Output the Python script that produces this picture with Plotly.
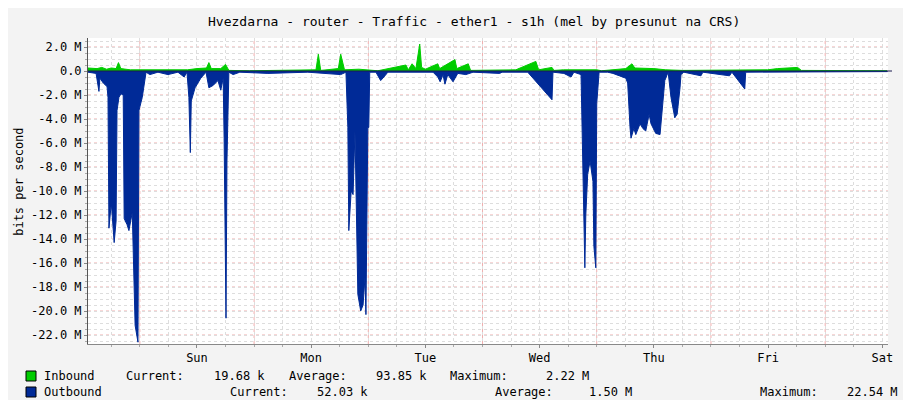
import plotly.graph_objects as go

# hours since Saturday 00:00
out_t = [1.1,2.8,3.4,3.6,4.3,5.1,5.3,5.5,6.0,6.2,6.6,7.0,7.2,7.6,8.0,8.5,8.7,9.3,9.7,10.4,11.0,11.6,11.8,12.5,12.9,13.3,14.1,15.8,17.9,20.0,21.3,21.9,22.3,22.6,22.8,23.6,24.8,25.9,26.5,27.4,28.4,29.0,29.5,29.7,30.1,30.3,30.7,31.6,33.0,38.9,47.3,54.2,55.3,55.7,55.9,56.4,56.8,57.2,57.8,58.4,58.9,59.3,59.5,59.9,60.1,60.3,61.6,62.6,63.5,64.1,73.6,74.6,75.1,75.7,76.1,76.7,77.8,78.8,80.5,82.0,87.6,88.1,93.5,98.6,98.8,101.1,102.6,103.2,104.7,105.1,105.5,105.7,106.1,106.6,107.2,107.4,107.8,108.0,108.5,110.3,111.4,114.1,114.5,115.0,115.2,115.8,116.2,117.1,117.7,118.3,119.0,119.4,120.4,121.3,121.7,122.3,123.0,123.6,124.4,124.9,125.5,125.7,126.3,128.4,129.9,130.3,135.9,136.4,139.1,139.3,143.9,152.3,169.1]
out_v = [-0.1,-0.2,-1.7,-0.6,-1.0,-1.3,-2.2,-13.1,-11.0,-12.0,-14.3,-12.5,-3.3,-2.2,-1.9,-2.0,-12.3,-12.8,-13.3,-11.8,-21.2,-22.6,-3.3,-2.2,-0.9,-0.1,-0.3,-0.1,-0.3,-0.1,-0.5,-0.1,-2.2,-6.8,-2.5,-1.4,-0.6,-0.1,-1.4,-1.2,-0.8,-1.6,-0.6,-5.6,-20.6,-7.5,-0.1,-0.3,-0.1,-0.2,-0.1,-0.3,-0.1,-4.7,-13.3,-10.0,-10.3,-5.0,-18.6,-20.0,-19.5,-17.2,-20.3,-4.7,-4.7,-0.1,-0.1,-0.8,-0.4,-0.1,-0.1,-0.5,-0.9,-0.3,-1.1,-0.3,-0.9,-0.2,-0.3,-0.1,-0.2,-0.1,-0.1,-2.4,-0.1,-0.2,-0.5,-0.1,-0.3,-7.2,-16.4,-12.0,-8.6,-7.5,-9.2,-14.6,-16.4,-2.7,-0.1,-0.1,-0.2,-0.6,-1.0,-4.75,-5.6,-4.8,-5.3,-4.4,-4.8,-5.0,-3.6,-4.4,-5.2,-5.3,-3.6,-0.8,-0.1,-2.2,-3.9,-3.6,-1.4,-0.3,-0.1,-0.3,-0.4,-0.1,-0.4,-0.1,-1.5,-0.1,-0.1,-0.1,-0.05]

in_t = [1.1,3.0,4.0,5.0,6.0,7.0,7.5,8.0,10,12,13.3,16,20,22,24,26,26.5,27,29,30,30.7,35,49,49.5,50,53.7,54.2,54.6,55,58,60.3,62,67.9,68.4,69.2,70.0,70.8,71.2,72,74.6,75,78.2,78.6,81.0,81.5,87.2,91,95.2,95.8,98.6,99,101,104,108,109,114.1,115.4,116,120,122.5,126,143.9,146,150.2,151,169]
in_v = [0.25,0.2,0.3,0.15,0.25,0.2,0.7,0.2,0.1,0.1,0.05,0.1,0.05,0.1,0.2,0.25,0.7,0.2,0.2,0.55,0.05,0.02,0.1,1.4,0.05,0.2,1.4,0.8,0.1,0.15,0.1,0.02,0.5,0.1,0.6,0.2,2.25,0.3,0.15,0.6,0.2,0.95,0.2,0.6,0.05,0.05,0.1,0.8,0.1,0.3,0.05,0.1,0.1,0.1,0.02,0.2,0.6,0.25,0.2,0.1,0.05,0.1,0.2,0.3,0.05,0.02]

day_ticks = [24, 48, 72, 96, 120, 144, 168]
day_labels = ["Sun", "Mon", "Tue", "Wed", "Thu", "Fri", "Sat"]
y_ticks = [2, 0, -2, -4, -6, -8, -10, -12, -14, -16, -18, -20, -22]
y_labels = ["2.0 M", "0.0"] + [f"{v:.1f} M" for v in y_ticks[2:]]

legend_rows = [
    ("#00CC00", [("Inbound", 34), ("Current:", 116), ("19.68 k", 204), ("Average:", 279), ("93.85 k", 366), ("Maximum:", 440), ("2.22 M", 536)]),
    ("#002A97", [("Outbound", 34), ("Current:", 220), ("52.03 k", 307), ("Average:", 485), ("1.50 M", 579), ("Maximum:", 750), ("22.54 M", 837)]),
]

FONT = "DejaVu Sans Mono"
X0, X1 = 1.1, 169.2
L, R, T, B = 80, 31, 30, 64
W, H = 911, 400
pw, ph = W - L - R, H - T - B

fig = go.Figure()
fig.add_trace(go.Scatter(x=in_t, y=in_v, mode="lines", line=dict(color="#00CC00", width=1),
                         fill="tozeroy", fillcolor="#00CC00", hoverinfo="skip"))
fig.add_trace(go.Scatter(x=out_t, y=out_v, mode="lines", line=dict(color="#002A97", width=1),
                         fill="tozeroy", fillcolor="#002A97", hoverinfo="skip"))

shapes = []
for d in range(0, 7):
    xn = 12 + 24 * d
    if X0 < xn < X1:
        shapes.append(dict(type="line", xref="x", yref="paper", x0=xn, x1=xn, y0=0, y1=1,
                           line=dict(color="rgba(230,120,120,0.6)", width=1, dash="dot"), layer="below"))
for yv in y_ticks:
    shapes.append(dict(type="line", xref="paper", yref="y", x0=0, x1=1, y0=yv, y1=yv,
                       line=dict(color="rgba(230,120,120,0.6)", width=1, dash="dot"), layer="below"))
shapes.append(dict(type="line", xref="paper", yref="y", x0=0, x1=1.005, y0=0, y1=0, line=dict(color="#1a1a50", width=1)))

annotations = [
    dict(text="Hvezdarna - router - Traffic - ether1 - s1h (mel by presunut na CRS)", xref="paper", yref="paper",
         x=(466 - L) / pw, y=1 + 16 / ph, showarrow=False, font=dict(family=FONT, size=13, color="#000"), xanchor="center", yanchor="middle"),
    dict(text="bits per second", xref="paper", yref="paper", x=-69 / pw, y=0.53, textangle=-90, showarrow=False,
         font=dict(family=FONT, size=12, color="#000"), xanchor="center", yanchor="middle"),
    dict(text="RRDTOOL / TOBI OETIKER", xref="paper", yref="paper", x=1 + 20 / pw, y=1 + 22 / ph, textangle=90,
         showarrow=False, font=dict(family=FONT, size=8, color="#999"), xanchor="center", yanchor="top"),
]
for i, (col, items) in enumerate(legend_rows):
    py = 368 + 16 * i
    yp = (H - B - py) / ph
    shapes.append(dict(type="rect", xref="paper", yref="paper", x0=(18 - L) / pw, x1=(28 - L) / pw,
                       y0=yp - 5 / ph, y1=yp + 5 / ph, fillcolor=col, line=dict(color="#000", width=1)))
    for txt, px in items:
        annotations.append(dict(text=txt, xref="paper", yref="paper", x=(px - L) / pw, y=yp, showarrow=False,
                                xanchor="left", yanchor="middle", font=dict(family=FONT, size=12, color="#000")))

fig.update_layout(
    width=W, height=H, margin=dict(l=L, r=R, t=T, b=B, autoexpand=False),
    paper_bgcolor="#F3F3F3", plot_bgcolor="#FFFFFF", showlegend=False,
    shapes=shapes, annotations=annotations,
    xaxis=dict(range=[X0, X1], tickvals=day_ticks, ticktext=day_labels, showgrid=False, zeroline=False, automargin=False,
               ticks="outside", ticklen=3, tickcolor="#888", showline=True, linecolor="#888",
               tickfont=dict(family=FONT, size=12, color="#000"),
               minor=dict(dtick=6, tick0=0, showgrid=True, gridcolor="#DDDDDD", griddash="dot", ticks="outside", ticklen=2, tickcolor="#aaa")),
    yaxis=dict(range=[-22.75, 2.75], tickvals=y_ticks, ticktext=y_labels, showgrid=False, zeroline=False, automargin=False,
               ticks="outside", ticklen=3, tickcolor="#888", showline=True, linecolor="#555",
               tickfont=dict(family=FONT, size=12, color="#000"),
               minor=dict(dtick=0.5, tick0=0, showgrid=True, gridcolor="#DDDDDD", griddash="dot", ticks="outside", ticklen=2, tickcolor="#aaa")),
)
fig.write_html("out.html")
